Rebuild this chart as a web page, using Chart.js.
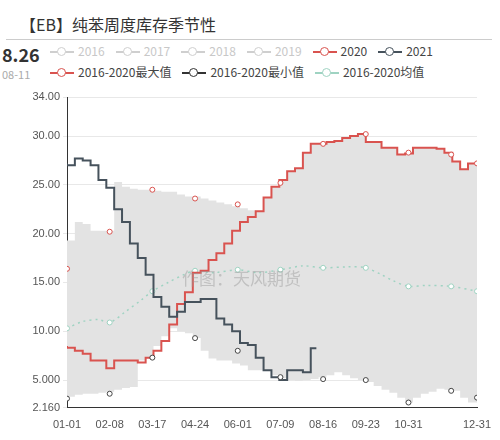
<!DOCTYPE html>
<html>
<head>
<meta charset="utf-8">
<script src="https://cdn.jsdelivr.net/npm/chart.js@4"></script>
<style>
body { margin: 0; background: #fff; font-family: "Noto Sans CJK SC", "Noto Sans", sans-serif; }
#wrap { position: relative; width: 500px; height: 440px; }
#title { position: absolute; left: 20px; top: 12px; font-size: 16px; color: #333; }
#rule { position: absolute; left: 6px; top: 39px; width: 486px; height: 1px; background: #ccc; }
#big { position: absolute; left: 2px; top: 41px; font-size: 18px; font-weight: bold; color: #333; }
#small { position: absolute; left: 2px; top: 66px; font-size: 11px; color: #aaa; }
.leg { position: absolute; font-size: 12px; color: #444; white-space: nowrap; }
.it { display: inline-block; margin-right: 11px; }
.sw { display: inline-block; position: relative; width: 24px; height: 10px; vertical-align: -1px; margin-right: 4px; }
.sw i { position: absolute; left: 0; top: 4px; width: 24px; height: 2px; }
.sw b { position: absolute; left: 7px; top: 0; width: 7px; height: 7px; border-radius: 50%; border: 1.5px solid; background: #fff; }
#wm { position: absolute; left: 182px; top: 265px; font-size: 17px; color: rgba(150,150,150,0.45); }
#c { position: absolute; left: 0; top: 85px; }
</style>
</head>
<body>
<div id="wrap">
  <div id="title">【EB】纯苯周度库存季节性</div>
  <div id="rule"></div>
  <div id="big">8.26</div>
  <div id="small">08-11</div>
  <div class="leg" id="leg1" style="left:50px; top:42px;"></div>
  <div class="leg" id="leg2" style="left:50px; top:63px;"></div>
  <canvas id="c" width="500" height="350"></canvas>
  <div id="wm">作图：天风期货</div>
</div>
<script>
// 周度横坐标（一年中的第几天）
const weekDays = [0,7,14,21,28,35,42,49,56,63,70,77,84,91,98,105,112,119,126,133,140,147,154,161,168,175,
    182,189,196,203,210,217,224,231,238,245,252,259,266,273,280,287,294,301,308,315,322,329,336,343,350,357,365];

const tickDays = [0,38,76,114,152,190,228,266,304,342,365];
const tickLabels = ['01-01','02-08','03-17','04-24','06-01','07-09','08-16','09-23','10-31','12-08','12-31'];
const yTicks = [2.16,5,10,15,20,25,30,34];

const days2021 = [0,7,14,21,28,35,42,49,56,63,70,77,84,91,98,105,112,119,126,133,140,147,154,161,168,175,182,189,196,203,210,217,222];
const values2021 = [27.2,27.0,27.7,27.5,27.0,25.5,24.7,22.5,21.2,19.0,17.5,15.8,13.5,12.5,11.5,12.0,13.0,13.0,13.3,13.3,
    11.3,10.7,10.0,8.8,8.6,7.3,6.0,5.3,5.0,6.0,6.0,5.8,8.26];

const values2020 = [8.5,8.3,8.0,7.7,7.0,7.0,6.2,7.0,7.0,7.0,6.8,7.3,8.0,9.0,10.7,12.8,14.0,16.0,16.2,17.3,18.0,19.0,20.3,
    21.2,21.7,22.3,23.7,24.8,25.5,26.4,26.7,28.3,29.2,29.2,29.4,29.5,29.8,30.0,30.2,29.4,29.4,28.8,28.8,28.1,28.2,
    28.8,28.8,28.8,28.7,28.3,27.4,26.6,27.2];

const bandTop = [19.0,19.3,21.2,21.0,20.3,20.3,20.3,25.3,24.8,24.6,24.5,24.5,24.4,24.3,24.3,24.0,23.8,23.8,23.6,23.4,
    23.2,23.0,22.8,22.6,22.4,22.3,23.7,24.8,25.5,26.4,26.7,28.3,29.2,29.2,29.4,29.5,29.8,30.0,30.2,29.4,29.4,28.8,
    28.8,28.1,28.2,28.8,28.8,28.8,28.7,28.3,27.4,26.6,27.2];
const bandBottom = [3.3,3.3,3.5,3.6,3.6,3.7,3.8,4.0,4.2,4.3,7.0,7.3,8.5,9.5,10.3,10.0,9.8,9.3,8.0,7.2,7.0,7.0,6.7,6.5,
    6.0,6.0,6.0,5.5,5.2,5.0,4.9,5.0,5.1,5.3,5.5,5.8,5.5,5.2,5.0,4.8,4.4,4.0,3.7,3.2,2.7,3.2,3.6,3.8,4.1,4.0,3.9,3.2,2.7];

const maxValues = [16.4,20.2,24.5,23.6,23.0,25.2,29.2,30.2,28.3,28.1,27.2];
const minValues = [3.1,3.6,7.3,9.3,8.0,5.3,5.1,5.0,2.7,3.9,3.2];

const avgDays = [0,14,28,38,52,66,76,90,104,114,130,152,170,190,210,228,250,266,280,290,304,320,342,365];
const avgValues = [10.3,11.0,11.2,10.9,12.0,13.2,14.1,15.0,15.8,16.2,16.0,16.3,16.0,16.3,16.7,16.5,16.6,16.5,15.8,15.2,14.6,14.7,14.6,14.1];

const RED = '#d9534f', DARK = '#46525c', AVG = '#9fd3c2', GREY = '#cfcfcf';

function xy(xs, ys) { return ys.map((v, i) => ({ x: xs[i], y: v })); }

function legend(id, items) {
    document.getElementById(id).innerHTML = items.map(it =>
        '<span class="it" style="color:' + (it[2] || '#444') + '"><span class="sw"><i style="background:' + it[1] +
        '"></i><b style="border-color:' + it[1] + '"></b></span>' + it[0] + '</span>').join('');
}
legend('leg1', [['2016', GREY, '#c8c8c8'], ['2017', GREY, '#c8c8c8'], ['2018', GREY, '#c8c8c8'], ['2019', GREY, '#c8c8c8'],
    ['2020', RED], ['2021', DARK]]);
legend('leg2', [['2016-2020最大值', RED], ['2016-2020最小值', '#333'], ['2016-2020均值', AVG]]);

const avgRadius = avgDays.map(d => tickDays.includes(d) ? 2.5 : 0);

new Chart(document.getElementById('c'), {
    type: 'line',
    data: {
        datasets: [
            { data: xy(weekDays, bandTop), borderWidth: 0, pointRadius: 0, stepped: 'after', fill: '+1',
              backgroundColor: '#e3e3e3', order: 10 },
            { data: xy(weekDays, bandBottom), borderWidth: 0, pointRadius: 0, stepped: 'after', fill: false, order: 11 },
            { data: xy(avgDays, avgValues), borderColor: AVG, borderWidth: 1.5, borderDash: [2, 4], pointRadius: avgRadius,
              pointBackgroundColor: '#fff', pointBorderColor: AVG, pointBorderWidth: 1, tension: 0.3, order: 5 },
            { data: xy(weekDays, values2020), borderColor: RED, borderWidth: 2, stepped: 'after', pointRadius: 0, order: 3 },
            { data: xy(days2021, values2021), borderColor: DARK, borderWidth: 2, stepped: 'after', pointRadius: 0, order: 2 },
            { data: xy(tickDays, maxValues), showLine: false, pointRadius: 2.5, pointBorderColor: RED,
              pointBackgroundColor: '#fff', pointBorderWidth: 1, order: 1 },
            { data: xy(tickDays, minValues), showLine: false, pointRadius: 2.5, pointBorderColor: '#444',
              pointBackgroundColor: '#fff', pointBorderWidth: 1, order: 1 }
        ]
    },
    options: {
        responsive: false,
        animation: false,
        layout: { padding: { top: 12, right: 23, left: 0, bottom: 0 } },
        plugins: { legend: { display: false }, tooltip: { enabled: false } },
        scales: {
            x: {
                type: 'linear', min: 0, max: 365,
                afterBuildTicks: s => { s.ticks = tickDays.filter(d => d !== 342).map(d => ({ value: d })); },
                ticks: { autoSkip: false, maxRotation: 0, color: '#555', font: { size: 11 },
                    callback: v => tickLabels[tickDays.indexOf(v)] },
                grid: { display: false, drawTicks: true },
                border: { color: '#333' }
            },
            y: {
                min: 2.16, max: 34,
                afterBuildTicks: s => { s.ticks = yTicks.map(v => ({ value: v })); },
                afterFit: s => { s.width = 67; },
                ticks: { color: '#555', font: { size: 11 },
                    callback: v => v === 2.16 ? '2.160' : (v === 5 ? '5.000' : v.toFixed(2)) },
                grid: { color: '#e8e8e8', tickLength: 4 },
                border: { color: '#333' }
            }
        }
    }
});
</script>
</body>
</html>
